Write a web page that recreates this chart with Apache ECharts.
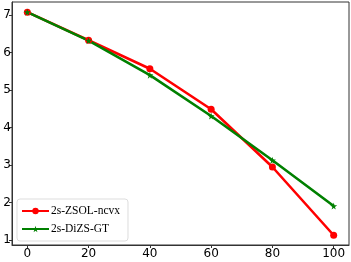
<!DOCTYPE html>
<html><head><meta charset="utf-8">
<script src="https://cdn.jsdelivr.net/npm/echarts@6/dist/echarts.min.js"></script>
<style>html,body{margin:0;padding:0;background:#fff}#c{width:351px;height:262px}</style>
</head><body><div id="c"></div>
<script>
const xValues = [0, 20, 40, 60, 80, 100];
const zsolNcvx = [7.08, 6.33, 5.57, 4.49, 2.95, 1.13];
const dizsGT = [7.08, 6.32, 5.40, 4.31, 3.13, 1.91];
const xTicks = [0, 20, 40, 60, 80, 100];
const yTicks = [1, 2, 3, 4, 5, 6, 7];
const seriesNames = ['2s-ZSOL-ncvx', '2s-DiZS-GT'];

const star = 'path://M50,0 L61,35 L98,35 L68,57 L79,91 L50,70 L21,91 L32,57 L2,35 L39,35 Z';
const chart = echarts.init(document.getElementById('c'), null, {renderer: 'canvas'});
const axisCol = '#333';
chart.setOption({
  animation: false,
  grid: {left: 12, right: 2, top: 2, bottom: 17, show: true, borderColor: axisCol, borderWidth: 1, containLabel: false},
  xAxis: {
    type: 'value', min: -5, max: 105,
    axisLine: {show: true, onZero: false, lineStyle: {color: axisCol}},
    axisTick: {show: true, customValues: xTicks, length: 3, lineStyle: {color: axisCol}},
    axisLabel: {customValues: xTicks, color: '#000', fontFamily: 'DejaVu Sans', fontSize: 12, margin: 3},
    splitLine: {show: false}
  },
  yAxis: {
    type: 'value', min: 0.87, max: 7.35,
    axisLine: {show: true, onZero: false, lineStyle: {color: axisCol}},
    axisTick: {show: true, customValues: yTicks, length: 3, lineStyle: {color: axisCol}},
    axisLabel: {customValues: yTicks, color: '#000', fontFamily: 'DejaVu Sans', fontSize: 12, margin: 1},
    splitLine: {show: false}
  },
  legend: {
    left: 17, top: 199, orient: 'vertical',
    itemWidth: 27, itemHeight: 8, itemGap: 6,
    padding: [6, 8, 6, 4],
    borderColor: '#ddd', borderWidth: 1, borderRadius: 3,
    backgroundColor: 'rgba(255,255,255,0.8)',
    textStyle: {fontFamily: 'Liberation Serif', fontSize: 11.5, color: '#000', padding: [0,0,0,-3]},
    data: seriesNames
  },
  series: [
    {name: seriesNames[0], type: 'line', data: xValues.map((x,i)=>[x, zsolNcvx[i]]),
     color: '#ff0000', lineStyle: {width: 2.6, color: '#ff0000'}, symbol: 'circle', symbolSize: 7,
     itemStyle: {color: '#ff0000'}},
    {name: seriesNames[1], type: 'line', data: xValues.map((x,i)=>[x, dizsGT[i]]),
     color: '#008000', lineStyle: {width: 2.6, color: '#008000'}, symbol: star, symbolSize: 7,
     itemStyle: {color: '#008000'}}
  ]
});
</script></body></html>
